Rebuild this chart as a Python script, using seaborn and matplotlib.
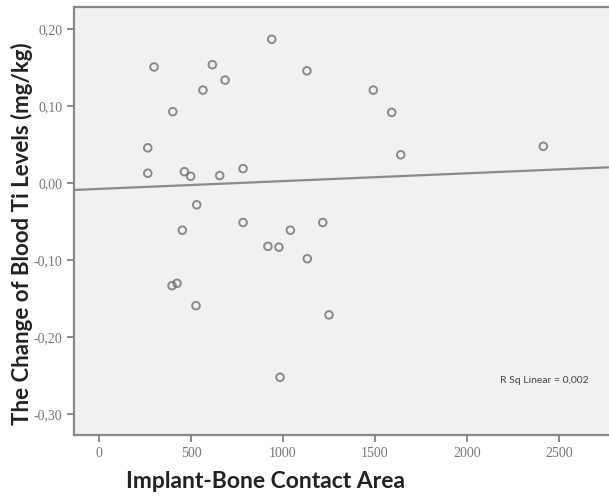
import numpy as np
import pandas as pd
import matplotlib
matplotlib.use("Agg")
import matplotlib.pyplot as plt
import seaborn as sns

# ===============================
# Data
# ===============================
contact_area = [299, 939, 616, 1130, 685, 565, 401, 265, 265, 464,
                498, 656, 783, 531, 453, 783, 1040, 1216, 918, 978,
                1132, 397, 424, 527, 1250, 984, 1491, 1591, 1640, 2415]
ti_change = [0.151, 0.187, 0.154, 0.146, 0.134, 0.121, 0.093, 0.046, 0.013, 0.015,
             0.009, 0.010, 0.019, -0.028, -0.061, -0.051, -0.061, -0.051, -0.082, -0.083,
             -0.098, -0.133, -0.130, -0.159, -0.171, -0.252, 0.121, 0.092, 0.037, 0.048]

x_ticks = [0, 500, 1000, 1500, 2000, 2500]
y_ticks = [0.20, 0.10, 0.00, -0.10, -0.20, -0.30]
y_tick_labels = ["0,20", "0,10", "0,00", "-0,10", "-0,20", "-0,30"]
r2_label = "R Sq Linear = 0,002"

df = pd.DataFrame({"area": contact_area, "ti": ti_change})

# ===============================
# Plot
# ===============================
sns.set_style("white")
plt.rcParams["font.family"] = ["Lato", "DejaVu Sans"]

fig = plt.figure(figsize=(6.09, 4.96), dpi=100)
ax = fig.add_axes([0.1215, 0.123, 0.8785, 0.863])
ax.set_facecolor("#f0f1f3")

# limits first so the fit line runs across the whole frame
ax.set_xlim(-136, 2772)
ax.set_ylim(-0.327, 0.229)

sns.regplot(data=df, x="area", y="ti", ax=ax, ci=None, truncate=False,
            scatter_kws=dict(s=30, facecolors="none", edgecolors="#707070", linewidths=1.4),
            line_kws=dict(color="#8a8a8a", lw=1.6))

ax.set_xlim(-136, 2772)
ax.set_ylim(-0.327, 0.229)

ax.set_xticks(x_ticks)
ax.set_xticklabels([str(t) for t in x_ticks])
ax.set_yticks(y_ticks)
ax.set_yticklabels(y_tick_labels)
ax.tick_params(axis="both", direction="out", length=5, width=1.2, color="#777777",
               labelcolor="#777777", labelsize=10, bottom=True, left=True)
for lbl in ax.get_xticklabels() + ax.get_yticklabels():
    lbl.set_family(["Liberation Serif", "DejaVu Serif"])

for side in ["left", "top", "bottom"]:
    ax.spines[side].set_color("#888888")
    ax.spines[side].set_linewidth(1.6)
ax.spines["right"].set_visible(False)

ax.set_xlabel("")
ax.set_ylabel("")
fig.text(265 / 609, 1 - 482 / 496, "Implant-Bone Contact Area", fontsize=16.5,
         fontweight="bold", color="#222222", ha="center", va="center")
fig.text(22 / 609, 1 - 234 / 496, "The Change of Blood Ti Levels (mg/kg)", fontsize=16,
         fontweight="bold", color="#222222", ha="center", va="center", rotation=90)

ax.text(0.961, 0.127, r2_label, transform=ax.transAxes, ha="right", va="center",
        fontsize=7.5, color="#444444")

fig.savefig("out.png", dpi=100)
